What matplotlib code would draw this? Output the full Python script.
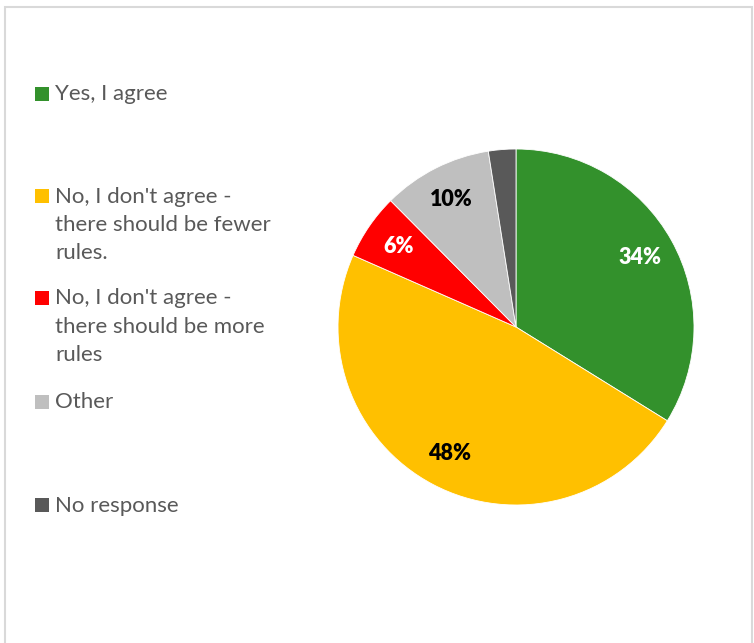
import numpy as np
import matplotlib.pyplot as plt
from matplotlib.patches import Rectangle

plt.rcParams['font.family'] = ['Lato', 'DejaVu Sans']

labels = ["Yes, I agree",
          "No, I don't agree -\nthere should be fewer\nrules.",
          "No, I don't agree -\nthere should be more\nrules",
          "Other",
          "No response"]
shares = [34, 48, 6, 10, 2.5]
colors = ["#33912C", "#FFC000", "#FF0000", "#BFBFBF", "#595959"]
label_colors = ["white", "black", "white", "black", None]

W, H = 754, 643
fig = plt.figure(figsize=(W / 100, H / 100), dpi=100)

# outer frame (bottom edge runs off the canvas)
fig.add_artist(Rectangle((5 / W, -0.05), 747 / W, 1.05 - 7 / H, transform=fig.transFigure,
                         fill=False, edgecolor="#D9D9D9", linewidth=1.5))

# pie: center (516, 327) px, radius 178 px
cx, cy, r = 516, 327, 178
ax = fig.add_axes([(cx - r) / W, (H - cy - r) / H, 2 * r / W, 2 * r / H])
total = sum(shares)
wedges, _ = ax.pie(shares, colors=colors, startangle=90, counterclock=False,
                   wedgeprops=dict(edgecolor="white", linewidth=0.6))
ax.set_xlim(-1, 1)
ax.set_ylim(-1, 1)
ax.set_aspect("equal")
ax.axis("off")

start = 90.0
for v, c, lc in zip(shares, colors, label_colors):
    sweep = 360.0 * v / total
    mid = np.deg2rad(start - sweep / 2)
    start -= sweep
    if lc is None:
        continue
    d = 0.80
    ax.text(d * np.cos(mid), d * np.sin(mid), f"{round(100 * v / total):.0f}%",
            ha="center", va="center", color=lc, fontsize=15.5, fontweight="heavy")

# legend entries laid out down the left side, evenly spaced
legend_y = [94, 196, 298, 402, 505]
for lab, c, y in zip(labels, colors, legend_y):
    fig.add_artist(Rectangle((35 / W, 1 - (y + 7) / H), 14 / W, 14 / H,
                             transform=fig.transFigure, facecolor=c, edgecolor="none"))
    fig.text(55 / W, 1 - (y - 9.5) / H, lab, ha="left", va="top", fontsize=16,
             color="#595959", linespacing=1.52)

fig.savefig("out.png", dpi=100)
